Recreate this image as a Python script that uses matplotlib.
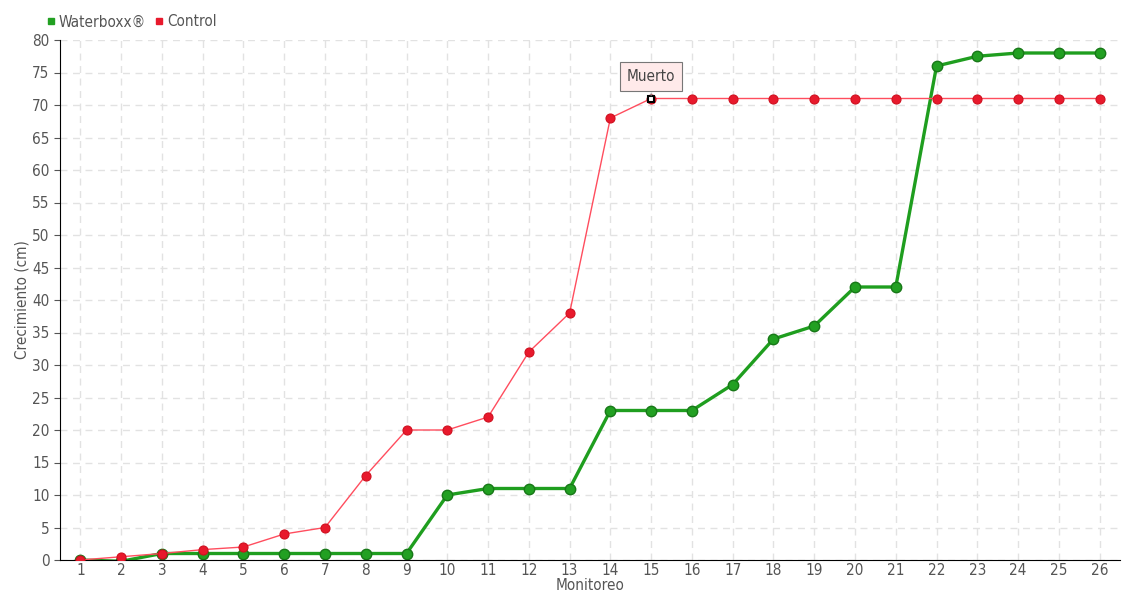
import matplotlib.pyplot as plt
from matplotlib.lines import Line2D
import numpy as np

monitoreo = list(range(1, 27))
waterboxx = [0, -0.2, 1, 1, 1, 1, 1, 1, 1, 10, 11, 11, 11, 23, 23, 23, 27, 34, 36, 42, 42, 76, 77.5, 78, 78, 78]
control = [0, 0.5, 1, 1.6, 2, 4, 5, 13, 20, 20, 22, 32, 38, 68, 71, 71, 71, 71, 71, 71, 71, 71, 71, 71, 71, 71]
muerto_idx = 14  # monitoreo 15

plt.rcParams['font.family'] = ['DejaVu Sans']
plt.rcParams['font.stretch'] = 'condensed'
txt = '#555555'

fig = plt.figure(figsize=(11.4, 6), dpi=100)
ax = fig.add_axes([60 / 1140, 40 / 600, 1060 / 1140, 520 / 600])

ax.plot(monitoreo, control, color='#ff4d5e', lw=1, zorder=3)
ax.plot(monitoreo, control, 'o', ms=6.5, color='#e8192c', mec='#d0101f', mew=0.8, zorder=4)
ax.plot(monitoreo[muerto_idx], control[muerto_idx], 's', ms=4.5, mfc='white', mec='black', mew=1.5, zorder=6)

ax.plot(monitoreo, waterboxx, color='#1f9e1f', lw=2.4, zorder=2)
ax.plot(monitoreo, waterboxx, 'o', ms=7.5, color='#22a022', mec='#187818', mew=1, zorder=2.5)

ax.annotate('Muerto', xy=(monitoreo[muerto_idx], control[muerto_idx]), xytext=(0, 16),
            textcoords='offset points', ha='center', va='center', fontsize=11, color='#444444',
            bbox=dict(boxstyle='square,pad=0.45', fc='#ffeaea', ec='#777777', lw=0.8),
            arrowprops=dict(arrowstyle='-', color='#777777', lw=0.8), zorder=7)

ax.set_xlim(0.5, 26.5)
ax.set_ylim(0, 80)
ax.set_xticks(monitoreo)
ax.set_yticks(np.arange(0, 81, 5))
ax.grid(True, ls=(0, (5, 4)), color='#e2e2e2', lw=1)
ax.set_axisbelow(True)
for s in ['top', 'right']:
    ax.spines[s].set_visible(False)
ax.spines['left'].set_color('black')
ax.spines['bottom'].set_color('black')
ax.tick_params(axis='both', labelsize=11, colors=txt, length=4)
ax.tick_params(axis='x', length=0, pad=2)
ax.set_xlabel('Monitoreo', fontsize=11, color=txt, labelpad=0)
ax.set_ylabel('Crecimiento (cm)', fontsize=11, color=txt, labelpad=2)

handles = [Line2D([], [], ls='none', marker='s', ms=5, color='#22a022'),
           Line2D([], [], ls='none', marker='s', ms=5, color='#e8192c')]
fig.legend(handles, ['Waterboxx®', 'Control'], loc='center left', bbox_to_anchor=(40 / 1140, 1 - 22 / 600),
           ncol=2, frameon=False, fontsize=11, handlelength=0.6, handletextpad=0.2, columnspacing=0.6,
           labelcolor=txt, borderaxespad=0)

fig.savefig('out.png', dpi=100)
